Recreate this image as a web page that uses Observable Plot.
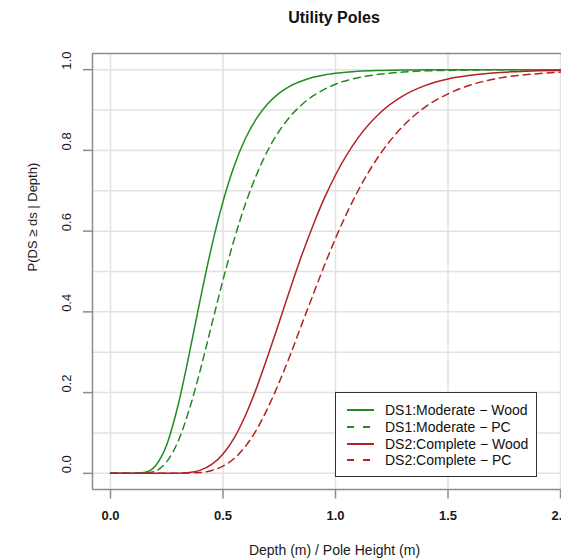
<!DOCTYPE html>
<html>
<head>
<meta charset="utf-8">
<script src="https://cdn.jsdelivr.net/npm/d3@7"></script>
<script src="https://cdn.jsdelivr.net/npm/@observablehq/plot@0.6"></script>
<style>
  body { margin: 0; background: #fff; font-family: "Liberation Sans", Arial, Helvetica, sans-serif; }
  #wrap { position: relative; width: 561px; height: 559px; overflow: hidden; background: #fff; }
  #title { position: absolute; left: 184px; top: 0; width: 300px; height: 36px; line-height: 36px;
           text-align: center; font-weight: bold; font-size: 16px; color: #111; }
  #chart { position: absolute; left: 0; top: 36px; }
  #legend { position: absolute; left: 335px; top: 392px; width: 200px; height: 83px;
            border: 1px solid #333; background: #fff; }
  .row { position: absolute; left: 0; height: 16px; width: 200px; }
  .row svg { position: absolute; left: 0; top: 0; }
  .row span { position: absolute; left: 49px; top: 0; line-height: 16px; font-size: 14px; color: #111; white-space: nowrap; }
</style>
</head>
<body>
<div id="wrap">
  <div id="title">Utility Poles</div>
  <div id="chart"></div>
  <div id="legend"></div>
</div>
<script>
// ---- data ----
const xGrid   = [0, 0.1, 0.15, 0.2, 0.25, 0.3, 0.35, 0.4, 0.45, 0.5, 0.55, 0.6, 0.65, 0.7, 0.75, 0.8, 0.85, 0.9, 0.95, 1.0, 1.1, 1.2, 1.3, 1.4, 1.5, 1.6, 1.7, 1.8, 1.9, 2.0];
const ds1Wood = [0, 0, 0.002, 0.019, 0.071, 0.168, 0.296, 0.434, 0.563, 0.673, 0.762, 0.830, 0.880, 0.916, 0.942, 0.960, 0.972, 0.981, 0.987, 0.991, 0.996, 0.998, 0.999, 1, 1, 1, 1, 1, 1, 1];
const ds1PC   = [0, 0, 0.001, 0.006, 0.029, 0.079, 0.158, 0.258, 0.369, 0.479, 0.580, 0.668, 0.741, 0.801, 0.848, 0.885, 0.913, 0.935, 0.951, 0.964, 0.980, 0.989, 0.994, 0.997, 0.998, 0.999, 1, 1, 1, 1];
const ds2Wood = [0, 0, 0, 0, 0, 0, 0.002, 0.008, 0.022, 0.048, 0.088, 0.144, 0.213, 0.292, 0.375, 0.459, 0.540, 0.614, 0.681, 0.739, 0.831, 0.894, 0.935, 0.961, 0.977, 0.986, 0.992, 0.995, 0.997, 0.998];
const ds2PC   = [0, 0, 0, 0, 0, 0, 0.001, 0.002, 0.007, 0.018, 0.037, 0.067, 0.109, 0.163, 0.226, 0.295, 0.369, 0.442, 0.514, 0.582, 0.700, 0.792, 0.860, 0.908, 0.940, 0.962, 0.976, 0.985, 0.990, 0.994];

const seriesNames  = ["DS1:Moderate \u2212 Wood", "DS1:Moderate \u2212 PC", "DS2:Complete \u2212 Wood", "DS2:Complete \u2212 PC"];
const seriesColors = ["#228B22", "#228B22", "#B22222", "#B22222"];
const seriesDashed = [false, true, false, true];

const xTicks = [0, 0.5, 1.0, 1.5, 2.0];
const yTicks = [0, 0.2, 0.4, 0.6, 0.8, 1.0];
const yGridTicks = [0, 0.1, 0.2, 0.3, 0.4, 0.5, 0.6, 0.7, 0.8, 0.9, 1.0];

const xDomain = [-0.08, 2.0044];
const yDomain = [-0.04, 1.04];

// ---- build tidy table ----
const seriesValues = [ds1Wood, ds1PC, ds2Wood, ds2PC];
const rows = [];
seriesValues.forEach((vals, i) => vals.forEach((p, j) => rows.push({x: xGrid[j], p, s: seriesNames[i]})));

const font = '"Liberation Sans", Arial, Helvetica, sans-serif';
const frameGray = "#8c8c8c";

const lineMarks = seriesNames.map((name, i) =>
  Plot.line(rows.filter(r => r.s === name), {
    x: "x", y: "p", stroke: seriesColors[i], strokeWidth: 1.5,
    strokeDasharray: seriesDashed[i] ? "7,5" : null, curve: "monotone-x"
  })
);

const chart = Plot.plot({
  width: 561, height: 523,
  marginLeft: 92, marginRight: 0, marginTop: 17, marginBottom: 70,
  x: {domain: xDomain, axis: null, label: null},
  y: {domain: yDomain, axis: null, label: null},
  style: {fontFamily: font, background: "white", overflow: "hidden"},
  marks: [
    Plot.gridX(xTicks, {stroke: "#e2e2e2", strokeOpacity: 1, strokeWidth: 1.5}),
    Plot.gridY(yGridTicks, {stroke: "#e2e2e2", strokeOpacity: 1, strokeWidth: 1.5}),
    Plot.ruleX([xDomain[0]], {stroke: frameGray, strokeWidth: 1.5}),
    Plot.ruleY([yDomain[0], yDomain[1]], {stroke: frameGray, strokeWidth: 1.5}),
    Plot.axisX(xTicks, {label: null, tickSize: 9.5, tickPadding: 12, stroke: frameGray, strokeWidth: 1.5, fill: "#1a1a1a",
                        fontWeight: "bold", fontSize: 13, tickFormat: d => d.toFixed(1)}),
    Plot.axisY(yTicks, {label: null, tickSize: 9, text: null, stroke: frameGray, strokeWidth: 1.5}),
    Plot.text(yTicks, {y: d => d, frameAnchor: "left", dx: -25.7, rotate: -90, text: d => d.toFixed(1),
                       fontSize: 13, fill: "#1a1a1a"}),
    Plot.text(["P(DS \u2265 ds | Depth)"], {frameAnchor: "left", dx: -60, rotate: -90, fontSize: 13, fill: "#1a1a1a"}),
    Plot.text(["Depth (m) / Pole Height (m)"], {frameAnchor: "bottom", lineAnchor: "middle", dy: 61, dx: 7.5,
                                              fontSize: 14, fill: "#1a1a1a"}),
    ...lineMarks
  ]
});
document.getElementById("chart").appendChild(chart);

// ---- legend ----
const legend = document.getElementById("legend");
const rowCenters = [17.3, 34.2, 50.6, 67];
seriesNames.forEach((name, i) => {
  const row = document.createElement("div");
  row.className = "row";
  row.style.top = (rowCenters[i] - 8) + "px";
  row.innerHTML = `<svg width="45" height="16"><line x1="11" x2="38" y1="8" y2="8" stroke="${seriesColors[i]}" stroke-width="2" ${seriesDashed[i] ? 'stroke-dasharray="7,9"' : ''}/></svg><span>${name}</span>`;
  legend.appendChild(row);
});
</script>
</body>
</html>
